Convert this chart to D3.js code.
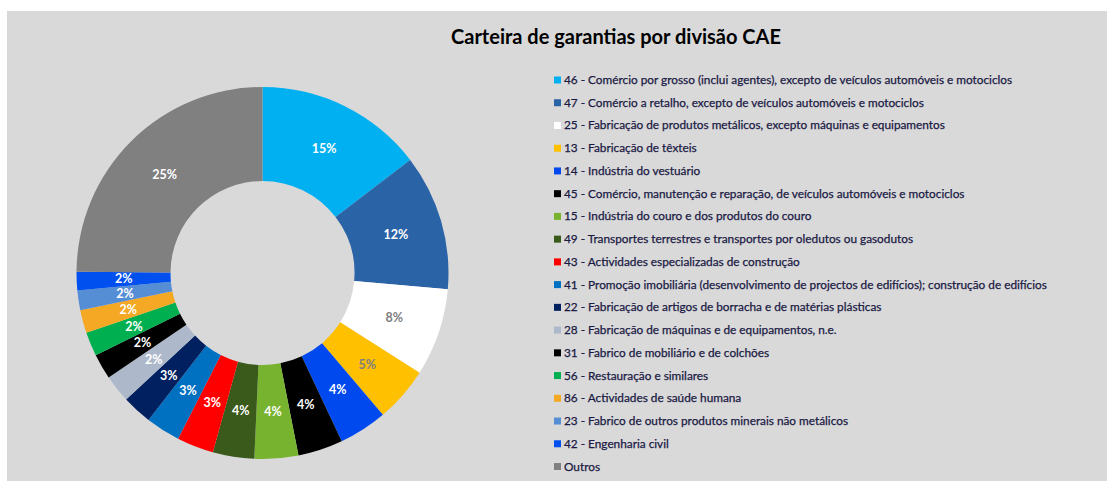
<!DOCTYPE html>
<html>
<head>
<meta charset="utf-8">
<script src="https://cdn.jsdelivr.net/npm/d3@7.9.0/dist/d3.min.js"></script>
<style>
  body { margin: 0; background: #fff; }
  svg { display: block; }
  text { font-family: Lato, "Open Sans", sans-serif; }
</style>
</head>
<body>
<div id="chart"></div>
<script>
// divisions CAE (legend order = slice order, clockwise from 12 o'clock)
const categories = [
  '46 - Comércio por grosso (inclui agentes), excepto de veículos automóveis e motociclos',
  '47 - Comércio a retalho, excepto de veículos automóveis e motociclos',
  '25 - Fabricação de produtos metálicos, excepto máquinas e equipamentos',
  '13 - Fabricação de têxteis',
  '14 - Indústria do vestuário',
  '45 - Comércio, manutenção e reparação, de veículos automóveis e motociclos',
  '15 - Indústria do couro e dos produtos do couro',
  '49 - Transportes terrestres e transportes por oledutos ou gasodutos',
  '43 - Actividades especializadas de construção',
  '41 - Promoção imobiliária (desenvolvimento de projectos de edifícios); construção de edifícios',
  '22 - Fabricação de artigos de borracha e de matérias plásticas',
  '28 - Fabricação de máquinas e de equipamentos, n.e.',
  '31 - Fabrico de mobiliário e de colchões',
  '56 - Restauração e similares',
  '86 - Actividades de saúde humana',
  '23 - Fabrico de outros produtos minerais não metálicos',
  '42 - Engenharia civil',
  'Outros'
];

// share of portfolio, %
const shares = [14.6, 11.8, 7.6, 4.8, 4.2, 3.9, 3.8, 3.6, 3.2, 3.0, 2.6, 2.4, 2.2, 2.1, 2.0, 1.7, 1.6, 24.9];

const colors = [
  '#00b0f0', '#2b63a7', '#ffffff', '#ffc000', '#0049ef', '#000000',
  '#77b32f', '#3a5a1b', '#ff0000', '#0070c0', '#002060', '#adb9ca',
  '#000000', '#00b050', '#f4a823', '#558ed5', '#0050ef', '#808080'
];

// labels drawn in grey on the light slices
const greyLabels = ['25 - Fabricação de produtos metálicos, excepto máquinas e equipamentos', '13 - Fabricação de têxteis'];

const width = 1107, height = 481;

const svg = d3.select('#chart').append('svg')
  .attr('width', width)
  .attr('height', height);

// grey chart area
svg.append('rect')
  .attr('x', 7).attr('y', 11)
  .attr('width', width - 7).attr('height', height - 11)
  .attr('fill', '#d9d9d9');

svg.append('text')
  .attr('x', 616).attr('y', 44)
  .attr('text-anchor', 'middle')
  .attr('font-size', 20)
  .attr('font-weight', 'bold')
  .attr('fill', '#000')
  .text('Carteira de garantias por divisão CAE');

const data = categories.map((c, i) => ({ cat: c, value: shares[i], color: colors[i] }));
const total = d3.sum(shares);

// --- Donut
const outerR = 186, innerR = 92;
const pie = d3.pie().value(d => d.value).sort(null);
const arc = d3.arc().innerRadius(innerR).outerRadius(outerR);

const donut = svg.append('g').attr('transform', 'translate(262.5, 273)');

const arcs = pie(data);

donut.selectAll('path')
  .data(arcs)
  .join('path')
  .attr('d', arc)
  .attr('fill', d => d.data.color);

const fmtPct = d3.format('.0%');

donut.selectAll('text')
  .data(arcs)
  .join('text')
  .attr('transform', d => `translate(${arc.centroid(d)})`)
  .attr('text-anchor', 'middle')
  .attr('dy', '0.35em')
  .attr('font-size', 12.5)
  .attr('font-weight', 'bold')
  .attr('fill', d => greyLabels.includes(d.data.cat) ? '#7f7f7f' : '#fff')
  .text(d => fmtPct(d.data.value / total));

// --- Legend
const legendY = d3.scalePoint()
  .domain(categories)
  .range([84, 470.5]);

const legend = svg.append('g').attr('class', 'legend');

const items = legend.selectAll('g')
  .data(data)
  .join('g')
  .attr('transform', d => `translate(554, ${legendY(d.cat)})`);

items.append('rect')
  .attr('x', 0).attr('y', -7.5)
  .attr('width', 7).attr('height', 7)
  .attr('fill', d => d.color);

items.append('text')
  .attr('x', 10).attr('y', 0)
  .attr('font-size', 11.8)
  .attr('fill', '#1a1a44')
  .attr('stroke', '#1a1a44')
  .attr('stroke-width', 0.25)
  .text(d => d.cat);
</script>
</body>
</html>
